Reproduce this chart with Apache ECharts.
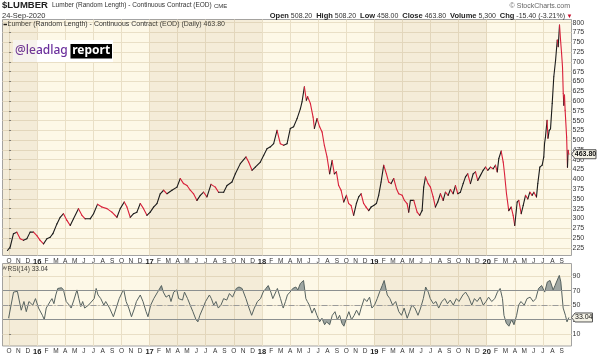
<!DOCTYPE html>
<html><head><meta charset="utf-8">
<script src="https://cdn.jsdelivr.net/npm/echarts@6/dist/echarts.min.js"></script>
<style>html,body{margin:0;padding:0;background:#fff}#c{width:602px;height:356px}</style>
</head><body><div id="c"></div>
<script>
// time unit: months since 1 Oct 2015
const priceT = [-0.17,0.12,0.47,0.83,1.19,1.54,1.90,2.25,2.61,2.97,3.32,3.68,4.04,4.39,4.68,5.11,5.46,5.81,6.18,6.53,6.88,7.41,7.78,8.13,8.66,9.02,9.44,9.91,10.45,10.98,11.52,11.87,12.30,12.59,12.94,13.29,13.65,14.01,14.36,14.72,15.07,15.43,15.79,16.14,16.50,16.86,17.39,17.93,18.28,18.63,19.00,19.35,19.70,20.06,20.42,20.77,21.13,21.56,22.02,22.37,22.91,23.27,23.80,24.16,24.69,25.30,25.58,25.94,26.29,26.83,27.18,27.54,27.90,28.25,28.61,28.96,29.32,29.68,30.03,30.38,30.75,31.10,
31.28,31.53,31.74,31.88,32.17,32.46,32.60,32.88,33.16,33.42,33.66,33.95,34.23,34.49,34.73,34.95,35.19,35.45,35.73,36.02,36.26,36.52,36.79,37.08,37.33,37.59,37.86,38.12,38.40,38.65,38.93,39.22,39.46,39.72,40.00,40.29,40.53,40.79,41.07,41.36,41.60,41.97,42.21,42.50,42.67,42.85,43.21,43.57,43.85,44.10,44.27,44.46,44.74,44.99,45.28,45.52,45.77,46.06,46.35,46.59,46.88,47.12,47.41,47.66,47.91,48.19,48.48,48.73,48.97,49.26,49.55,49.80,50.04,50.33,50.62,50.87,51.11,51.40,51.69,51.93,52.12,52.29,52.54,52.76,52.90,53.11,53.35,53.61,53.82,53.99,54.25,54.42,54.68,54.89,55.14,55.39,55.60,55.85,56.03,56.31,56.45,56.67,56.92,
57.09,57.17,57.27,57.44,57.54,57.67,57.81,57.99,58.16,58.35,58.53,58.63,58.77,58.88,58.99,59.09,59.17,59.23,59.30,59.37,59.53,59.62,59.69,59.77];
const priceV = [218,227,261,265,248,244,248,265,265,256,244,235,248,252,261,286,303,312,295,282,299,325,308,299,299,312,336,329,325,316,303,325,342,329,303,312,316,338,325,308,316,329,338,363,372,363,372,380,402,389,384,372,363,346,359,367,355,387,380,367,367,384,393,414,440,457,444,423,431,444,461,478,483,491,525,491,487,491,530,534,555,580,
598,636,602,611,594,559,530,555,534,521,487,457,414,448,414,419,384,372,342,359,338,333,308,338,355,363,338,329,320,329,333,338,359,393,436,414,393,389,402,376,363,359,346,338,316,346,346,316,308,320,380,406,389,380,355,329,342,363,346,367,359,374,363,384,363,367,389,406,414,389,414,419,397,410,423,431,423,431,427,436,419,453,472,444,414,363,320,329,308,282,342,346,312,333,359,350,367,359,367,355,389,431,436,
457,491,508,551,505,525,529,594,662,704,756,739,794,756,722,687,619,589,615,576,508,431,474,464];
const rsiT = [-0.05,0.48,0.89,1.30,1.59,1.84,2.12,2.53,2.82,3.15,3.56,3.76,3.97,4.38,4.58,4.79,4.99,5.20,5.61,5.81,6.10,6.43,6.63,6.92,7.25,7.45,7.66,7.86,8.07,8.48,8.68,9.09,9.30,9.50,9.79,10.12,10.32,10.73,11.14,11.35,11.76,12.09,12.25,12.50,12.78,13.07,13.40,13.60,14.01,14.30,14.63,14.83,15.12,15.45,15.86,16.27,16.47,16.76,17.09,17.29,17.58,17.91,18.11,18.52,18.73,19.06,19.34,19.63,19.96,20.16,20.37,20.70,20.98,21.39,21.60,21.85,22.09,22.34,22.62,22.91,23.24,23.53,23.86,24.26,24.55,24.88,25.08,25.29,25.62,25.90,26.19,26.52,26.85,27.13,27.42,27.67,27.95,28.16,28.36,28.65,28.98,29.27,29.51,29.72,30.00,30.29,30.62,30.83,31.11,31.44,31.69,31.85,32.06,32.34,32.59,32.87,33.16,33.41,33.69,33.90,34.23,34.51,34.80,35.05,35.29,35.54,35.75,36.03,36.28,36.56,36.85,37.10,37.38,37.59,37.92,38.20,38.49,38.74,39.02,39.31,39.56,39.84,40.05,40.38,40.66,40.95,41.28,41.61,41.90,42.18,42.51,42.76,43.00,43.33,43.66,43.94,44.23,44.48,44.76,44.97,45.30,45.58,45.87,46.20,46.53,46.81,47.10,47.43,47.76,48.04,48.45,48.74,49.07,49.40,49.69,49.97,50.30,50.63,50.92,51.20,51.53,51.86,52.14,52.43,52.68,52.84,53.09,53.37,53.66,53.91,54.19,54.40,54.65,55.01,55.30,55.63,55.96,56.24,56.53,56.86,57.19,57.47,57.76,58.09,58.29,58.58,58.75,58.91,59.16,59.40,59.57,59.77];
const rsiV = [32,68,69,43,55,41,55,50,59,46,
36,30,46,55,59,52,64,73,74,71,
55,50,46,57,71,59,48,55,46,50,
48,59,73,64,59,50,55,46,34,36,
59,68,71,55,46,34,46,55,64,55,
41,34,50,59,68,77,68,61,64,55,
68,71,59,57,68,59,50,41,30,27,
36,46,55,64,59,50,55,46,50,59,
57,66,61,73,75,73,71,59,46,36,
46,55,59,68,73,77,68,59,61,73,
59,46,55,64,68,73,75,71,80,84,
59,55,50,39,46,36,27,32,23,27,
23,36,41,30,36,25,21,32,41,30,
36,43,36,46,59,55,61,46,50,59,
68,77,84,64,59,50,55,41,36,46,
32,41,50,46,36,46,59,75,68,59,
52,55,46,55,59,52,57,50,59,55,
64,68,61,50,59,55,61,50,55,61,
55,59,68,73,59,36,25,21,30,23,
36,50,55,50,59,61,55,59,73,77,
68,82,84,71,77,86,91,82,46,36,
27,33];
const priceTicks = [225,250,275,300,325,350,375,400,425,450,475,500,525,550,575,600,625,650,675,700,725,750,775,800];
const rsiTicks = [10,30,50,70,90];
const monthLetters = ['J','F','M','A','M','J','J','A','S','O','N','D'];
const shadedYears = [2015, 2017, 2019];
const lastPriceText = '463.80';
const lastRsiText = '33.04';

const XMIN = -0.7, XMAX = 60.05;
const FONT = '"Liberation Sans", Arial, sans-serif';
const GRIDC = '#e9dfc6';
const monthTicks = []; for (let m = 0; m < 60; m++) monthTicks.push(m);
const quarterTicks = monthTicks.filter(m => m % 3 === 0);

function fmtMonth(v) {
  const m = Math.round(v);
  const mo = (m + 9) % 12;
  if (mo === 0) return '{y|' + String((2015 + Math.floor((m + 9) / 12)) % 100) + '}';
  return monthLetters[mo];
}
const shadeData = shadedYears.map(y => {
  const s = (y - 2015) * 12 - 9;
  return [{xAxis: Math.max(s, XMIN)}, {xAxis: Math.min(s + 12, XMAX)}];
});

function xAxisCfg(gi) {
  return {
    type: 'value', gridIndex: gi, min: XMIN, max: XMAX,
    axisLine: {show: false},
    axisTick: {show: false, customValues: quarterTicks},
    splitLine: {show: true, lineStyle: {color: GRIDC, width: 1}},
    axisLabel: {customValues: monthTicks, formatter: fmtMonth, fontSize: 6.5, color: '#333', margin: 2,
      fontFamily: FONT, rich: {y: {fontWeight: 'bold', fontSize: 7.5, color: '#222', fontFamily: FONT}}}
  };
}

const segs = [];
for (let i = 0; i < priceT.length - 1; i++) segs.push([priceT[i], priceV[i], priceT[i + 1], priceV[i + 1]]);
const pricePairs = priceT.map((t, i) => [t, priceV[i]]);
const rsiPairs = rsiT.map((t, i) => [t, rsiV[i]]);

const chart = echarts.init(document.getElementById('c'));
chart.setOption({
  animation: false,
  backgroundColor: '#fff',
  grid: [
    {left: 2.5, right: 30.5, top: 19.5, bottom: 100.5, show: true, backgroundColor: '#fdf8e7', borderColor: '#a3a3a3', borderWidth: 1},
    {left: 2.5, right: 30.5, top: 263.5, bottom: 9.5, show: true, backgroundColor: '#fdf8e7', borderColor: '#a3a3a3', borderWidth: 1}
  ],
  xAxis: [xAxisCfg(0), xAxisCfg(1)],
  yAxis: [
    {type: 'value', gridIndex: 0, position: 'right', min: 205.3, max: 808.2,
      axisLine: {show: false},
      axisTick: {show: true, length: 2, customValues: priceTicks, lineStyle: {color: '#777'}},
      axisLabel: {customValues: priceTicks, fontSize: 7, color: '#333', margin: 1, fontFamily: FONT},
      splitLine: {show: true, lineStyle: {color: GRIDC}}},
    {type: 'value', gridIndex: 1, position: 'right', min: -6.3, max: 107.4,
      axisLine: {show: false},
      axisTick: {show: true, length: 2, customValues: rsiTicks, lineStyle: {color: '#777'}},
      axisLabel: {customValues: rsiTicks, fontSize: 7, color: '#333', margin: 1, fontFamily: FONT},
      splitLine: {show: true, lineStyle: {color: GRIDC}}}
  ],
  visualMap: {type: 'piecewise', show: false, seriesIndex: 2, dimension: 1,
    pieces: [{gt: 70, color: '#8e9896'}, {lt: 30, color: '#8e9896'}, {gte: 30, lte: 70, color: 'rgba(255,255,255,0)'}]},
  series: [
    {type: 'custom', xAxisIndex: 0, yAxisIndex: 0, data: segs, encode: {x: [0, 2], y: [1, 3]}, z: 3, silent: true,
      renderItem: function (params, api) {
        const a = api.coord([api.value(0), api.value(1)]);
        const b = api.coord([api.value(2), api.value(3)]);
        const down = api.value(3) < api.value(1);
        return {type: 'line', shape: {x1: a[0], y1: a[1], x2: b[0], y2: b[1]},
          style: {stroke: down ? '#d9203a' : '#1c1c1c', lineWidth: 1.1, lineCap: 'round'}};
      }},
    {type: 'line', xAxisIndex: 0, yAxisIndex: 0, data: pricePairs, symbol: 'none', silent: true, z: 1,
      lineStyle: {opacity: 0, width: 0},
      markArea: {silent: true, itemStyle: {color: 'rgba(185,160,110,0.12)'}, data: shadeData}},
    {type: 'line', xAxisIndex: 1, yAxisIndex: 1, data: rsiPairs, symbol: 'none', silent: true, z: 2,
      lineStyle: {width: 0, opacity: 0}, areaStyle: {origin: 70, opacity: 0.85}},
    {type: 'line', xAxisIndex: 1, yAxisIndex: 1, data: rsiPairs, symbol: 'none', silent: true, z: 3,
      lineStyle: {color: '#56625f', width: 1},
      markArea: {silent: true, itemStyle: {color: 'rgba(185,160,110,0.12)'}, data: shadeData},
      markLine: {silent: true, symbol: 'none', label: {show: false},
        lineStyle: {color: '#8c9090', width: 1, type: 'solid'},
        data: [{yAxis: 70}, {yAxis: 30}, {yAxis: 50, lineStyle: {type: [6, 2, 1, 2], color: '#9a9a9a'}}]}}
  ]
});

const pp = chart.convertToPixel({xAxisIndex: 0, yAxisIndex: 0}, [priceT[priceT.length - 1], priceV[priceV.length - 1]]);
const rp = chart.convertToPixel({xAxisIndex: 1, yAxisIndex: 1}, [rsiT[rsiT.length - 1], rsiV[rsiV.length - 1]]);
const ax = 571.5;
function tag(y, txt, w, bold) {
  return [
    {type: 'polygon', shape: {points: [[ax, y], [ax + 3.5, y - 4.5], [ax + w, y - 4.5], [ax + w, y + 4.5], [ax + 3.5, y + 4.5]]},
      style: {fill: '#f4f2e6', stroke: '#555', lineWidth: 1}, z: 10},
    {type: 'text', x: ax + 3.5 + (w - 3.5) / 2, y: y, z: 11,
      style: {text: txt, font: (bold ? 'bold ' : '') + '7px ' + FONT, fill: '#111', align: 'center', verticalAlign: 'middle'}}
  ];
}
chart.setOption({
  graphic: [
    {type: 'text', x: 2, y: 0.5, style: {text: '$LUMBER', font: 'bold 9.5px ' + FONT, fill: '#222'}},
    {type: 'text', x: 52, y: 2, style: {text: 'Lumber (Random Length) - Continuous Contract (EOD)', font: '6.5px ' + FONT, fill: '#333'}},
    {type: 'text', x: 214, y: 3, style: {text: 'CME', font: '6px ' + FONT, fill: '#333'}},
    {type: 'text', x: 2, y: 11.5, style: {text: '24-Sep-2020', font: '7.5px ' + FONT, fill: '#333'}},
    {type: 'text', x: 570, y: 3, style: {text: '\u00a9 StockCharts.com', font: '7px ' + FONT, fill: '#666', align: 'right'}},
    {type: 'text', x: 565, y: 12, style: {
      text: '{b|Open} 508.20  {b|High} 508.20  {b|Low} 458.00  {b|Close} 463.80  {b|Volume} 5,300  {b|Chg} -15.40 (-3.21%)',
      align: 'right', font: '7px ' + FONT, fill: '#333',
      rich: {b: {fontWeight: 'bold', fontSize: 7.5, fontFamily: FONT, fill: '#222'}}}},
    {type: 'text', x: 566.5, y: 13.5, style: {text: '\u25bc', font: '6px ' + FONT, fill: '#c8102e'}},
    {type: 'line', shape: {x1: 3.5, y1: 24.5, x2: 7, y2: 24.5}, style: {stroke: '#111', lineWidth: 1.5}},
    {type: 'text', x: 7.5, y: 21, style: {text: 'Lumber (Random Length) - Continuous Contract (EOD) (Daily) 463.80', font: '7px ' + FONT, fill: '#333'}},
    {type: 'rect', shape: {x: 13, y: 40, width: 100, height: 22}, style: {fill: '#fff'}},
    {type: 'text', x: 15, y: 51, style: {text: '@leadlag', font: '500 12px "Noto Sans", sans-serif', fill: '#6a2e9c', verticalAlign: 'middle'}},
    {type: 'rect', shape: {x: 70.5, y: 44, width: 41.5, height: 14.5}, style: {fill: '#000'}},
    {type: 'text', x: 91.2, y: 51, style: {text: 'report', font: 'bold 12px "Noto Sans", sans-serif', fill: '#fff', align: 'center', verticalAlign: 'middle'}},
    {type: 'polyline', shape: {points: [[3, 269.5], [4.2, 266.5], [5.4, 269.5], [6.6, 266.5]]}, style: {stroke: '#555', lineWidth: 0.8, fill: null}},
    {type: 'text', x: 7.5, y: 265.5, style: {text: 'RSI(14) 33.04', font: '6.5px ' + FONT, fill: '#333'}},
    ...tag(pp[1], lastPriceText, 24.5, true),
    ...tag(rp[1], lastRsiText, 21, false)
  ]
});
</script></body></html>
